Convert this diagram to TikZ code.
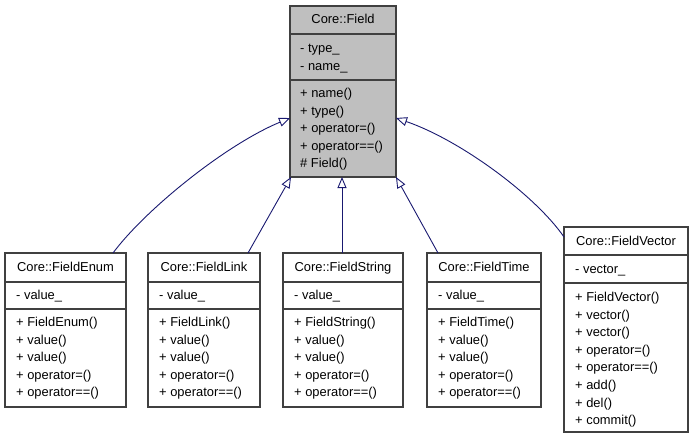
\documentclass[tikz,border=0pt]{standalone}
\usepackage{fontspec}
\setmainfont{Liberation Sans}
\usetikzlibrary{arrows.meta}
\definecolor{edgeblue}{HTML}{191970}
\definecolor{boxgray}{HTML}{BFBFBF}
\definecolor{boxline}{HTML}{404040}
\tikzset{
  classbox/.style={draw=boxline, line width=1.2pt, fill=white, anchor=north west, inner sep=0pt, outer sep=0pt},
  member/.style={anchor=base west, inner sep=0pt, font=\fontsize{12.9}{15}\selectfont},
  ctitle/.style={anchor=base, inner sep=0pt, font=\fontsize{12.9}{15}\selectfont},
  sepline/.style={draw=boxline, line width=1.2pt},
  inherit/.style={draw=edgeblue, line width=0.9pt, -{Triangle[open, length=11pt, width=9pt, fill=white]}},
}
\begin{document}
\begin{tikzpicture}[x=1pt,y=-1pt]
\useasboundingbox (0,0) rectangle (693,440);

% ---- Core::Field ----
\node[classbox, fill=boxgray, minimum width=106pt, minimum height=171pt] (field) at (290,6) {};
\draw[sepline] (290,34) -- (396,34);
\draw[sepline] (290,80) -- (396,80);
\node[ctitle] (fieldt) at (343,23) {Core::Field};
\foreach \t [count=\i from 0] in {- type\_, - name\_}
  \node[member] (fielda\i) at (300,52.5+17.5*\i) {\t};
\foreach \t [count=\i from 0] in {+ name(), + type(), + operator=(), + operator==(), \# Field()}
  \node[member] (fieldm\i) at (300,97.5+17.5*\i) {\t};

% ---- children (same layout) ----
\foreach \nm/\x/\w/\ttl in {enum/5/121/Core::FieldEnum, link/148/112/Core::FieldLink, string/283/120/Core::FieldString, time/427/114/Core::FieldTime}{
  \node[classbox, minimum width=\w pt, minimum height=154pt] (\nm) at (\x,253) {};
  \draw[sepline] (\x,282) -- (\x+\w,282);
  \draw[sepline] (\x,309) -- (\x+\w,309);
  \node[ctitle] (\nm t) at (\x+\w/2,271.5) {\ttl};
  \node[member] (\nm a) at (\x+11,299.5) {- value\_};
}
\foreach \t [count=\i from 0] in {+ FieldEnum(), + value(), + value(), + operator=(), + operator==()}
  \node[member] (enumm\i) at (16,326.5+17.6*\i) {\t};
\foreach \t [count=\i from 0] in {+ FieldLink(), + value(), + value(), + operator=(), + operator==()}
  \node[member] (linkm\i) at (159,326.5+17.6*\i) {\t};
\foreach \t [count=\i from 0] in {+ FieldString(), + value(), + value(), + operator=(), + operator==()}
  \node[member] (stringm\i) at (294,326.5+17.6*\i) {\t};
\foreach \t [count=\i from 0] in {+ FieldTime(), + value(), + value(), + operator=(), + operator==()}
  \node[member] (timem\i) at (438,326.5+17.6*\i) {\t};

% ---- Core::FieldVector ----
\node[classbox, minimum width=124pt, minimum height=205pt] (vector) at (564,227) {};
\draw[sepline] (564,255) -- (688,255);
\draw[sepline] (564,283) -- (688,283);
\node[ctitle] (vectort) at (626,245.5) {Core::FieldVector};
\node[member] (vectora) at (575,273.5) {- vector\_};
\foreach \t [count=\i from 0] in {+ FieldVector(), + vector(), + vector(), + operator=(), + operator==(), + add(), + del(), + commit()}
  \node[member] (vectorm\i) at (575,301.5+17.6*\i) {\t};

% ---- inheritance connectors ----
\draw[inherit] ([xshift=-13pt]enum.north east) .. controls (145,210) and (225,145) .. ([yshift=-26.5pt]field.west);
\draw[inherit] ([xshift=-12pt]link.north east) -- ([xshift=1pt]field.south west);
\draw[inherit] ([xshift=-1pt]string.north) -- ([xshift=-1pt]field.south);
\draw[inherit] ([xshift=11pt]time.north west) -- (field.south east);
\draw[inherit] ([yshift=-10pt]vector.north west) .. controls (535,195) and (460,140) .. ([yshift=-26.5pt]field.east);
\end{tikzpicture}
\end{document}
